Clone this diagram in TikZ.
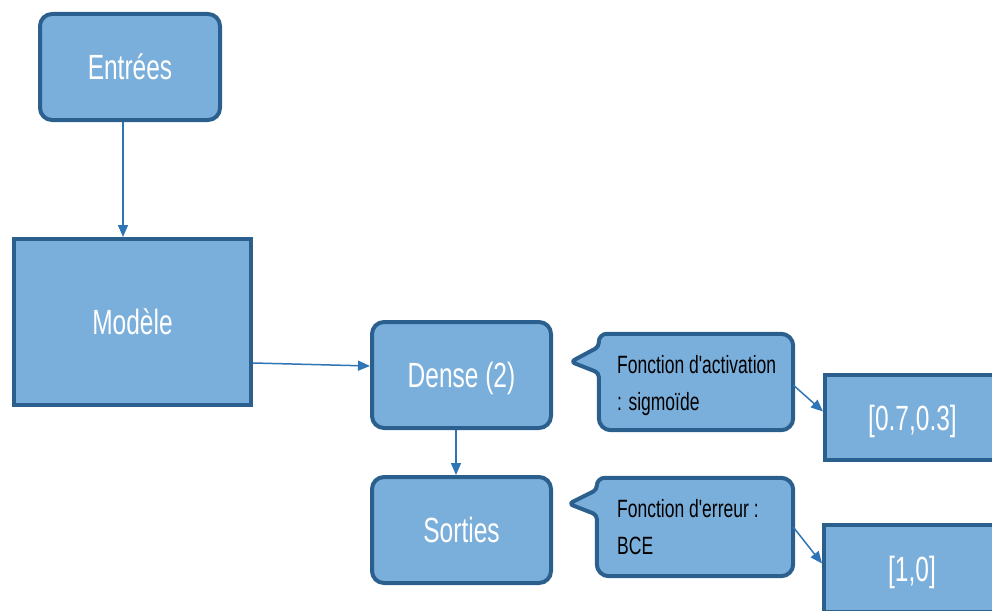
\documentclass[tikz,border=0pt]{standalone}
\usepackage{fontspec}
\newfontfamily\labfont[FakeStretch=0.7]{Liberation Sans}
\usetikzlibrary{arrows.meta,calc}
\definecolor{boxfill}{HTML}{7BAFDB}
\definecolor{boxline}{HTML}{2B5F8E}
\definecolor{arrowblue}{HTML}{2E75B6}
\tikzset{
  mainbox/.style={draw=boxline, fill=boxfill, line width=4pt, inner sep=0pt,
    text=white, font=\labfont\fontsize{35}{40}\selectfont, text height=25pt, text depth=0pt},
  roundbox/.style={mainbox, rounded corners=12pt},
  calloutbox/.style={inner sep=0pt},
  calloutline/.style={draw=boxline, fill=boxfill, line width=4pt, line join=round},
  callouttext/.style={anchor=north west, inner sep=0pt, align=left, text=black,
    font=\labfont\fontsize{25}{37}\selectfont},
  conn/.style={draw=arrowblue, line width=1.5pt, -{Triangle[length=12pt,width=10pt]}}
}
\begin{document}
\begin{tikzpicture}[x=1pt,y=-1pt]
\useasboundingbox (0,0) rectangle (992,610);

\node[roundbox, minimum width=180pt, minimum height=106pt] (ent) at (130,67) {Entrées};
\node[mainbox, minimum width=237pt, minimum height=166pt] (mod) at (132.5,322) {Modèle};
\node[roundbox, minimum width=179pt, minimum height=106pt] (den) at (461.5,375) {Dense (2)};
\node[roundbox, minimum width=179pt, minimum height=106pt] (sor) at (461.5,530) {Sorties};
\node[mainbox, minimum width=175pt, minimum height=85pt] (r1) at (912.5,417.5) {[0.7,0.3]};
\node[mainbox, minimum width=176pt, minimum height=87pt] (r2) at (912,568.5) {[1,0]};

% callout 1
\node[calloutbox, minimum width=194pt, minimum height=96pt] (c1) at (696,382) {};
\draw[calloutline] (c1.north) [rounded corners=12pt] -- (c1.north east) -- (c1.south east) -- (c1.south west)
  [rounded corners=4pt] -- ($(c1.north west)+(0,39)$) -- ($(c1.north west)+(-28,28)$) -- ($(c1.north west)+(0,13)$)
  [rounded corners=8pt] -- (c1.north west) -- cycle;
\node[callouttext] (t1) at (617,355) {Fonction d'activation\\: sigmoïde};

% callout 2
\node[calloutbox, minimum width=196pt, minimum height=98pt] (c2) at (695,527) {};
\draw[calloutline] (c2.north) [rounded corners=12pt] -- (c2.north east) -- (c2.south east) -- (c2.south west)
  [rounded corners=4pt] -- ($(c2.north west)+(0,37)$) -- ($(c2.north west)+(-28,26)$) -- ($(c2.north west)+(0,12)$)
  [rounded corners=8pt] -- (c2.north west) -- cycle;
\node[callouttext] (t2) at (617,499) {Fonction d'erreur :\\BCE};

% connectors
\draw[conn] ([xshift=-7pt]ent.south) -- ([xshift=-9.5pt]mod.north);
\draw[conn] ([yshift=-41pt]mod.east) -- ([yshift=9pt]den.west);
\draw[conn] ([xshift=-5.5pt]den.south) -- ([xshift=-5.5pt]sor.north);
\draw[conn] ([yshift=-3pt]c1.east) -- ([yshift=6pt]r1.west);
\draw[conn] (c2.east) -- ([yshift=5pt]r2.west);
\end{tikzpicture}
\end{document}
